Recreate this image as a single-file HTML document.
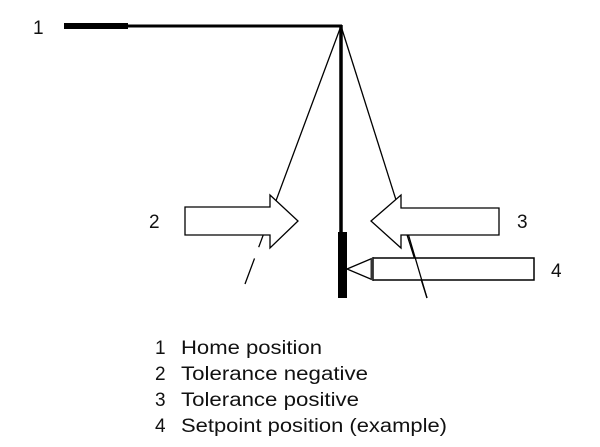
<!DOCTYPE html>
<html><head><style>
body{margin:0;background:#fff;}
svg{display:block;}
text{font-family:"Liberation Sans",sans-serif;font-size:19px;fill:#111;}
</style></head><body>
<svg width="600" height="447" viewBox="0 0 600 447">
<line x1="64" y1="26" x2="128" y2="26" stroke="#000" stroke-width="6"/>
<line x1="128" y1="26" x2="342" y2="26" stroke="#000" stroke-width="3"/>
<line x1="341" y1="25" x2="341" y2="298" stroke="#000" stroke-width="3.5"/>
<rect x="338" y="232" width="9" height="66" fill="#000"/>
<line x1="341" y1="26" x2="245" y2="284" stroke="#000" stroke-width="1.3" stroke-dasharray="236,12,100"/>
<line x1="341" y1="26" x2="427" y2="298" stroke="#000" stroke-width="1.3"/>
<polygon points="185,207 270,207 270,195 298,221 270,248 270,235 185,235" fill="#fff" stroke="#000" stroke-width="1.3"/>
<polygon points="499,208 401,208 401,195 371,221 401,248 401,235 499,235" fill="#fff" stroke="#000" stroke-width="1.3"/>
<rect x="373" y="258" width="161" height="22" fill="#fff" stroke="#000" stroke-width="1.5"/>
<polygon points="347,269 373,258 373,280" fill="#fff" stroke="#000" stroke-width="1.3"/>
<line x1="372" y1="258" x2="372" y2="280" stroke="#333" stroke-width="3"/>
<line x1="408.5" y1="235" x2="427" y2="298" stroke="#000" stroke-width="1.3"/>
<text x="33" y="34">1</text>
<text x="149" y="228">2</text>
<text x="517" y="228">3</text>
<text x="551" y="277">4</text>
<text x="155" y="354">1</text><text x="181" y="354" textLength="141" lengthAdjust="spacingAndGlyphs">Home position</text>
<text x="155" y="380">2</text><text x="181" y="380" textLength="187" lengthAdjust="spacingAndGlyphs">Tolerance negative</text>
<text x="155" y="406">3</text><text x="181" y="406" textLength="178" lengthAdjust="spacingAndGlyphs">Tolerance positive</text>
<text x="155" y="432">4</text><text x="181" y="432" textLength="266" lengthAdjust="spacingAndGlyphs">Setpoint position (example)</text>
</svg>
</body></html>
